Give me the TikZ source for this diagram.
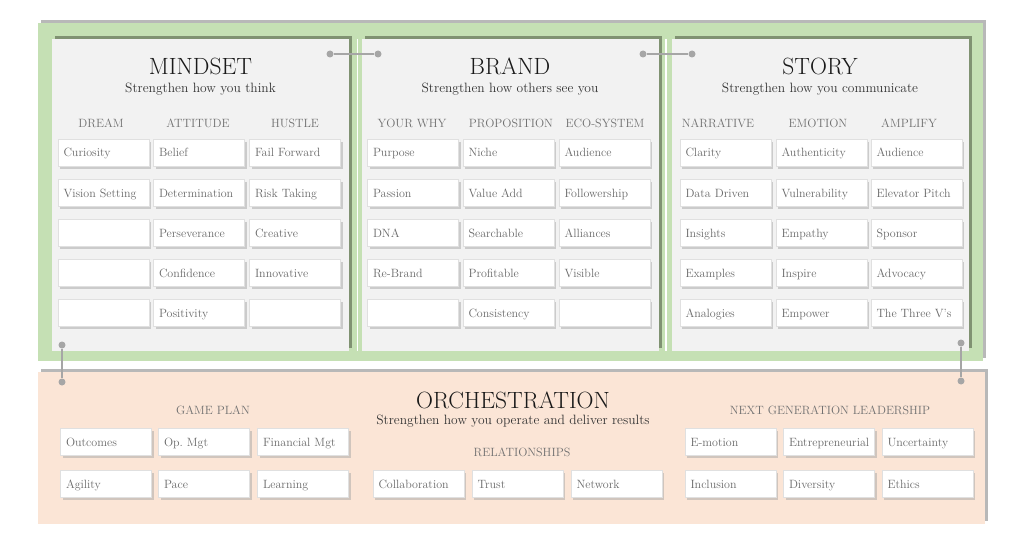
\documentclass[tikz,border=0pt]{standalone}
\usepackage{tikz}
\usetikzlibrary{shadows,positioning}
\definecolor{leafgreen}{RGB}{197,224,180}
\definecolor{peach}{RGB}{251,229,214}
\definecolor{panelgray}{RGB}{242,242,242}
\definecolor{mossshadow}{RGB}{128,146,114}
\definecolor{dotgray}{RGB}{166,166,166}
\definecolor{headgray}{RGB}{112,112,112}
\definecolor{itemgray}{RGB}{105,105,105}
\tikzset{
  item/.style={draw=black!12, fill=white, text=itemgray, font=\fontsize{12}{14}\selectfont, text width=80pt, inner xsep=5.5pt, inner ysep=0pt, text height=10pt, text depth=2pt, minimum height=27pt, align=left, drop shadow={shadow xshift=2pt, shadow yshift=-2.5pt, fill=black!35}},
  title/.style={font=\fontsize{23.5}{26}\selectfont, text=black!90},
  tagline/.style={font=\fontsize{13.5}{15}\selectfont, text=black!80},
  colhead/.style={font=\fontsize{12}{14}\selectfont, text=headgray, text height=8.5pt, text depth=1pt},
  pin/.style={circle, fill=dotgray, inner sep=0pt, minimum size=7pt},
  link/.style={draw=dotgray, line width=1.2pt}
}

\begin{document}
\begin{tikzpicture}[x=1pt,y=-1pt]
  \useasboundingbox[fill=white] (0,0) rectangle (1024,548);
  % green frame and its three panels
  \fill[black!28] (41,20) rectangle (986,358);
  \fill[leafgreen] (38,23) rectangle (983,361);
  \foreach \px in {52,362,672}{
    \fill[mossshadow] (\px+3,36) rectangle (\px+300,348);
    \fill[panelgray] (\px,39) rectangle (\px+297,351);}
  \foreach \wx in {356.5,665}{\fill[white] (\wx,39) rectangle (\wx+1.6,351);}
  % peach frame
  \fill[black!28] (41,369) rectangle (988,521);
  \fill[peach] (38,372) rectangle (985,524);

  % MINDSET
  \node[title] (mindset) at (200.5,66) {MINDSET};
  \node[tagline] (mindset-sub) at (200.5,89) {Strengthen how you think};
  \node[colhead] (dream) at (101,124) {DREAM};
  \node[colhead] (attitude) at (198,124) {ATTITUDE};
  \node[colhead] (hustle) at (295,124) {HUSTLE};
  \foreach \r/\a/\b/\c in {1/Curiosity/Belief/Fail Forward, 2/Vision Setting/Determination/Risk Taking, 3/{}/Perseverance/Creative, 4/{}/Confidence/Innovative, 5/{}/Positivity/{}}{
    \node[item] (mind-\r-1) at (103.5,113+40*\r) {\a};
    \node[item] (mind-\r-2) at (199,113+40*\r) {\b};
    \node[item] (mind-\r-3) at (295,113+40*\r) {\c};}

  % BRAND
  \node[title] (brand) at (510,66) {BRAND};
  \node[tagline] (brand-sub) at (510,89) {Strengthen how others see you};
  \node[colhead] (yourwhy) at (412,124) {YOUR WHY};
  \node[colhead] (proposition) at (511,124) {PROPOSITION};
  \node[colhead] (ecosystem) at (605,124) {ECO-SYSTEM};
  \foreach \r/\a/\b/\c in {1/Purpose/Niche/Audience, 2/Passion/Value Add/Followership, 3/DNA/Searchable/Alliances, 4/Re-Brand/Profitable/Visible, 5/{}/Consistency/{}}{
    \node[item] (brand-\r-1) at (413,113+40*\r) {\a};
    \node[item] (brand-\r-2) at (508.5,113+40*\r) {\b};
    \node[item] (brand-\r-3) at (604.5,113+40*\r) {\c};}

  % STORY
  \node[title] (story) at (820,66) {STORY};
  \node[tagline] (story-sub) at (820,89) {Strengthen how you communicate};
  \node[colhead] (narrative) at (718,124) {NARRATIVE};
  \node[colhead] (emotion) at (818,124) {EMOTION};
  \node[colhead] (amplify) at (909,124) {AMPLIFY};
  \foreach \r/\a/\b/\c in {1/Clarity/Authenticity/Audience, 2/Data Driven/Vulnerability/Elevator Pitch, 3/Insights/Empathy/Sponsor, 4/Examples/Inspire/Advocacy, 5/Analogies/Empower/The Three V's}{
    \node[item] (story-\r-1) at (725.5,113+40*\r) {\a};
    \node[item] (story-\r-2) at (821.5,113+40*\r) {\b};
    \node[item] (story-\r-3) at (916.5,113+40*\r) {\c};}

  % ORCHESTRATION
  \node[title] (orch) at (513,400) {ORCHESTRATION};
  \node[tagline] (orch-sub) at (513,421) {Strengthen how you operate and deliver results};
  \node[colhead] (gameplan) at (213,411) {GAME PLAN};
  \node[colhead] (relations) at (522,453) {RELATIONSHIPS};
  \node[colhead] (nextgen) at (830,411) {NEXT GENERATION LEADERSHIP};
  \foreach \r/\a/\b/\c in {1/Outcomes/Op.\ Mgt/Financial Mgt, 2/Agility/Pace/Learning}{
    \node[item] (game-\r-1) at (106,400+42*\r) {\a};
    \node[item] (game-\r-2) at (204,400+42*\r) {\b};
    \node[item] (game-\r-3) at (303,400+42*\r) {\c};}
  \node[item] (rel-1) at (418.5,484) {Collaboration};
  \node[item] (rel-2) at (517.5,484) {Trust};
  \node[item] (rel-3) at (616.5,484) {Network};
  \foreach \r/\a/\b/\c in {1/E-motion/Entrepreneurial/Uncertainty, 2/Inclusion/Diversity/Ethics}{
    \node[item] (lead-\r-1) at (730.5,400+42*\r) {\a};
    \node[item] (lead-\r-2) at (829,400+42*\r) {\b};
    \node[item] (lead-\r-3) at (927.5,400+42*\r) {\c};}

  % joints between the frames
  \node[pin] (mind-r) at (330,54) {};
  \node[pin] (brand-l) at (378,54) {};
  \node[pin] (brand-r) at (643,54) {};
  \node[pin] (story-l) at (692,54) {};
  \node[pin] (mind-b) at (62,345) {};
  \node[pin] (orch-l) at (62,382) {};
  \node[pin] (story-b) at (961,343) {};
  \node[pin] (orch-r) at (961,381) {};
  \draw[link] (mind-r) -- (brand-l);
  \draw[link] (brand-r) -- (story-l);
  \draw[link] (mind-b) -- (orch-l);
  \draw[link] (story-b) -- (orch-r);
\end{tikzpicture}
\end{document}
